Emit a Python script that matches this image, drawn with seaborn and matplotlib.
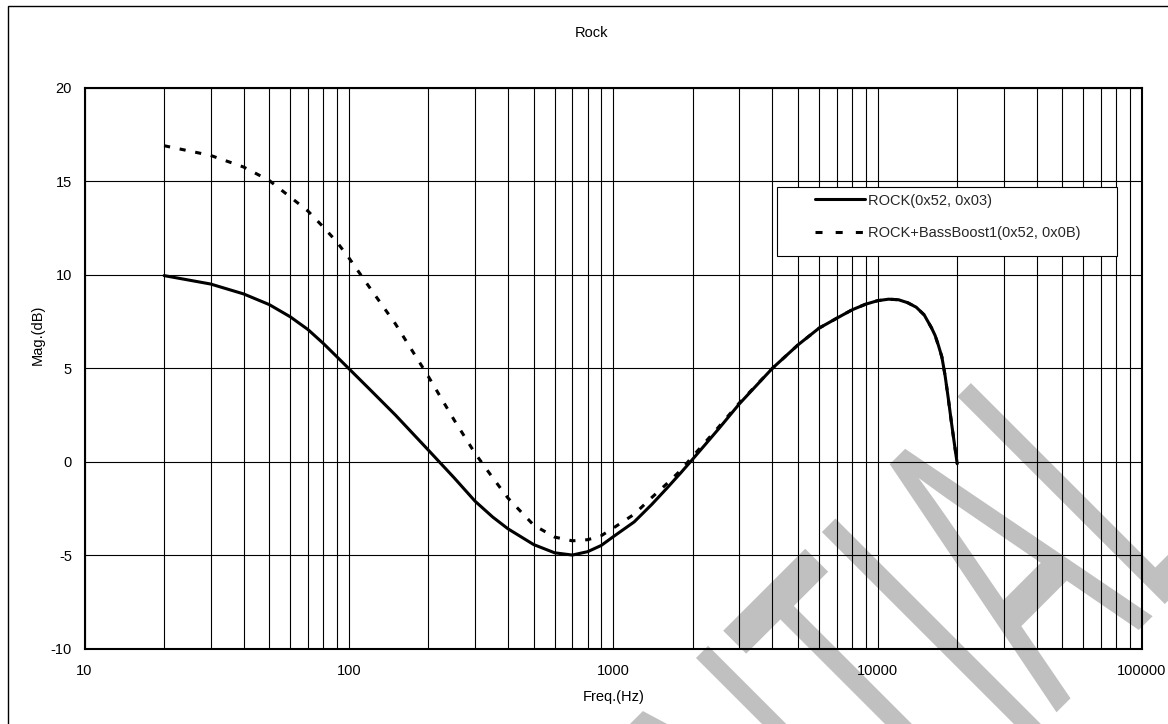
import numpy as np
import pandas as pd
import matplotlib
matplotlib.use("Agg")
import matplotlib.pyplot as plt
import seaborn as sns
from matplotlib.ticker import FixedLocator, FuncFormatter, NullFormatter, MultipleLocator
from matplotlib.patches import Rectangle
from matplotlib.patheffects import AbstractPathEffect
from matplotlib.transforms import Affine2D
from matplotlib.lines import Line2D

# ---------------- data ----------------
freq_rock = [20, 30, 40, 50, 60, 70, 80, 90, 100, 120, 150, 200, 250, 300, 350, 400, 500,
             600, 700, 800, 900, 1000, 1200, 1400, 1600, 1800, 2000, 2500, 3000, 4000,
             5000, 6000, 7000, 8000, 9000, 10000, 11000, 12000, 13000, 14000, 15000,
             16000, 16500, 17000, 17500, 18000, 18500, 19000, 19500, 20000]
mag_rock = [9.95, 9.5, 8.97, 8.4, 7.75, 7.07, 6.33, 5.62, 4.98, 3.87, 2.5, 0.62, -0.85,
            -2.1, -2.95, -3.58, -4.42, -4.86, -4.98, -4.8, -4.47, -4.0, -3.21, -2.27,
            -1.39, -0.59, 0.15, 1.75, 3.1, 5.0, 6.25, 7.14, 7.67, 8.12, 8.42, 8.61, 8.69,
            8.66, 8.5, 8.26, 7.85, 7.15, 6.75, 6.2, 5.6, 4.6, 3.4, 2.15, 1.0, -0.1]

freq_bass = [20, 30, 40, 50, 60, 70, 80, 90, 100, 120, 150, 200, 250, 300, 350, 400, 500,
             600, 700, 800, 900, 1000, 1200, 1400, 1600, 1800, 2000, 2500, 3000, 4000,
             5000, 6000, 7000, 8000, 9000, 10000, 11000, 12000, 13000, 14000, 15000,
             16000, 16500, 17000, 17500, 18000, 18500, 19000, 19500, 20000]
mag_bass = [16.89, 16.37, 15.75, 15.03, 14.15, 13.4, 12.55, 11.75, 10.9, 9.3, 7.37, 4.55,
            2.24, 0.46, -0.85, -1.94, -3.38, -4.02, -4.22, -4.16, -3.95, -3.54, -2.8,
            -1.9, -1.15, -0.45, 0.3, 1.85, 3.15, 5.0, 6.25, 7.14, 7.67, 8.12, 8.42, 8.61,
            8.69, 8.66, 8.5, 8.26, 7.85, 7.15, 6.75, 6.2, 5.6, 4.6, 3.4, 2.15, 1.0, -0.1]

series_labels = ["ROCK(0x52, 0x03)", "ROCK+BassBoost1(0x52, 0x0B)"]
title_text = "Rock"
x_label = "Freq.(Hz)"
y_label = "Mag.(dB)"
x_major = [10, 100, 1000, 10000, 100000]
watermark_text = "CONFIDENTIAL"

# ---------------- style ----------------
sns.set_theme(style="white")
plt.rcParams["font.family"] = ["Liberation Sans", "DejaVu Sans"]

W, H, DPI = 1168, 724, 100
FS = 10.5
fig = plt.figure(figsize=(W / DPI, H / DPI), dpi=DPI, facecolor="white")

# plot area in pixels: left 84.5, right 1142, top 87.5, bottom 649
L, R, T, B = 84.5, 1142.0, 87.5, 649.0
ax = fig.add_axes([L / W, 1 - B / H, (R - L) / W, (B - T) / H])
ax.set_facecolor("none")

# ---------------- watermark (stretched, rotated text) ----------------
class StretchText(AbstractPathEffect):
    def __init__(self, anchor, matrix):
        super().__init__()
        self._anchor = anchor
        self._matrix = matrix

    def draw_path(self, renderer, gc, tpath, affine, rgbFace=None):
        ax0, ay0 = self._anchor
        M = (Affine2D().translate(-ax0, -ay0) + Affine2D(self._matrix)
             + Affine2D().translate(ax0, ay0))
        renderer.draw_path(gc, tpath, affine + M, rgbFace)

E = 205.0                     # em size in px
su = 2.08                     # vertical stretch of glyphs
c = np.sqrt(0.5)
mat = np.array([[c, -c * su, 0.0], [c, c * su, 0.0], [0.0, 0.0, 1.0]])
P0 = (170.4, -874.4)          # baseline start in display px
fig.text(P0[0] / W, P0[1] / H, watermark_text, ha="left", va="baseline",
         fontsize=E * 72 / DPI, color="#c0c0c0", family="Liberation Sans",
         zorder=-1, path_effects=[StretchText(P0, mat)])

# ---------------- curves ----------------
sns.lineplot(x=freq_bass, y=mag_bass, ax=ax, color="black", lw=2.2,
             linestyle=(0, (2, 3.2)), estimator=None, sort=False, zorder=2.1)
sns.lineplot(x=freq_rock, y=mag_rock, ax=ax, color="black", lw=2.2,
             estimator=None, sort=False, zorder=2.2)

ax.set_xscale("log")
ax.set_xlim(10, 100000)
ax.set_ylim(-10, 20)

ax.xaxis.set_major_locator(FixedLocator(x_major))
minor = [m * d for d in x_major[:-1] for m in range(2, 10)]
ax.xaxis.set_minor_locator(FixedLocator(minor))
ax.xaxis.set_major_formatter(FuncFormatter(lambda v, p: f"{int(round(v))}"))
ax.xaxis.set_minor_formatter(NullFormatter())
ax.yaxis.set_major_locator(MultipleLocator(5))
ax.yaxis.set_major_formatter(FuncFormatter(lambda v, p: f"{int(round(v))}"))

ax.grid(True, which="both", axis="x", color="black", lw=0.8)
ax.grid(True, which="major", axis="y", color="black", lw=0.8)
ax.tick_params(axis="both", which="both", length=0, labelsize=FS, colors="black")
ax.tick_params(axis="x", pad=11)
ax.tick_params(axis="y", pad=9)
for s in ax.spines.values():
    s.set_visible(True)
    s.set_color("black")
    s.set_linewidth(1.5)

ax.set_xlabel(x_label, fontsize=FS, color="black")
ax.set_ylabel(y_label, fontsize=FS, color="black")
ax.xaxis.label.set_va("center")
ax.xaxis.set_label_coords(0.5, (B - 697) / (B - T))
ax.yaxis.label.set_va("center")
ax.yaxis.set_label_coords((38 - L) / (R - L), (B - 335) / (B - T))

# ---------------- legend ----------------
def px_ax(x, y):
    return ((x - L) / (R - L), (B - y) / (B - T))

lx0, ly0 = px_ax(777, 256)
lx1, ly1 = px_ax(1117, 186.7)
ax.add_patch(Rectangle((lx0, ly0), lx1 - lx0, ly1 - ly0, transform=ax.transAxes,
                       facecolor="white", edgecolor="black", lw=0.8, zorder=4))
handles = [Line2D([], [], color="black", lw=2.2),
           Line2D([], [], color="black", lw=2.2, linestyle=(0, (2.3, 4.3)))]
ax.legend(handles, series_labels, loc="upper left", bbox_to_anchor=px_ax(815, 193.5),
          frameon=False, borderpad=0, borderaxespad=0, handlelength=50 / 14.58,
          handletextpad=0.2, labelspacing=1.25, fontsize=FS).set_zorder(5)

# ---------------- title & border ----------------
fig.text(591 / W, 1 - 33 / H, title_text, ha="center", va="center", fontsize=FS,
         color="black")
fig.patches.append(Rectangle((8 / W, 1 - 1000 / H), (1300) / W, (1000 - 5.7) / H,
                             transform=fig.transFigure, fill=False, edgecolor="black",
                             lw=1.0, zorder=3))

fig.savefig("out.png", dpi=DPI, facecolor="white")
